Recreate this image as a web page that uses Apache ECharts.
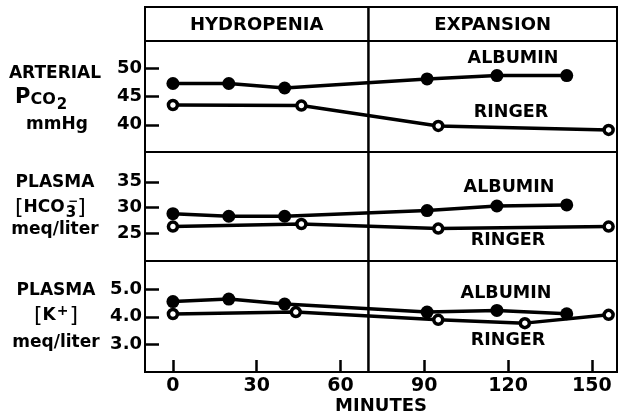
<!DOCTYPE html>
<html>
<head>
<meta charset="utf-8">
<script src="https://cdn.jsdelivr.net/npm/echarts@6/dist/echarts.min.js"></script>
<style>
  html, body { margin: 0; padding: 0; background: #fff; }
  #chart { width: 621px; height: 417px; }
</style>
</head>
<body>
<div id="chart"></div>
<script>
// minutes at which each group was sampled
const minutesAlbumin = [0, 20, 40, 91, 116, 141];
const minutesRinger = [0, 46, 95, 156];
const minutesRingerK = [0, 44, 95, 126, 156];

// arterial PCO2, mmHg
const pco2Albumin = [47.3, 47.3, 46.5, 48.1, 48.7, 48.7];
const pco2Ringer = [43.5, 43.4, 39.8, 39.1];

// plasma HCO3-, meq/liter
const hco3Albumin = [28.8, 28.3, 28.3, 29.4, 30.3, 30.5];
const hco3Ringer = [26.3, 26.8, 25.9, 26.3];

// plasma K+, meq/liter
const kAlbumin = [4.55, 4.64, 4.46, 4.17, 4.23, 4.11];
const kRinger = [4.1, 4.17, 3.89, 3.77, 4.07];

// axis ticks
const timeTicks = [0, 30, 60, 90, 120, 150];
const pco2Ticks = [40, 45, 50];
const hco3Ticks = [25, 30, 35];
const kTicks = [3.0, 4.0, 5.0];

const phaseNames = ['HYDROPENIA', 'EXPANSION'];
const phaseSplit = 70;

const FONT = 'DejaVu Sans';

function pairs(xs, ys) {
    return xs.map(function (x, i) { return [x, ys[i]]; });
}

//坐标轴
function xAxisFor(gridIndex, showLabels) {
    return {
        type: 'value',
        gridIndex: gridIndex,
        min: -10,
        max: 159,
        splitLine: { show: false },
        axisLine: { show: showLabels, onZero: false, lineStyle: { color: '#000', width: 2 } },
        axisTick: {
            show: showLabels, inside: true, length: 12,
            customValues: timeTicks,
            lineStyle: { color: '#000', width: 2.5 }
        },
        axisLabel: {
            show: showLabels, customValues: timeTicks, margin: 5,
            color: '#000', fontFamily: FONT, fontWeight: 'bold', fontSize: 19
        },
        name: showLabels ? 'MINUTES' : '',
        nameLocation: 'middle',
        nameGap: 25,
        nameTextStyle: { color: '#000', fontFamily: FONT, fontWeight: 'bold', fontSize: 18 }
    };
}

function yAxisFor(gridIndex, min, max, ticks, digits) {
    return {
        type: 'value',
        gridIndex: gridIndex,
        min: min,
        max: max,
        splitLine: { show: false },
        axisLine: { show: true, onZero: false, lineStyle: { color: '#000', width: 2 } },
        axisTick: {
            show: true, inside: true, length: 14,
            customValues: ticks,
            lineStyle: { color: '#000', width: 2.5 }
        },
        axisLabel: {
            customValues: ticks, margin: 3,
            color: '#000', fontFamily: FONT, fontWeight: 'bold', fontSize: 18,
            formatter: function (v) { return v.toFixed(digits); }
        }
    };
}

function albuminSeries(idx, xs, ys) {
    return {
        type: 'line', xAxisIndex: idx, yAxisIndex: idx,
        data: pairs(xs, ys),
        symbol: 'circle', symbolSize: 13,
        lineStyle: { color: '#000', width: 3.5 },
        itemStyle: { color: '#000' },
        z: 3
    };
}

function ringerSeries(idx, xs, ys) {
    return {
        type: 'line', xAxisIndex: idx, yAxisIndex: idx,
        data: pairs(xs, ys),
        symbol: 'circle', symbolSize: 9,
        showAllSymbol: true,
        lineStyle: { color: '#000', width: 3.5 },
        itemStyle: { color: '#fff', borderColor: '#000', borderWidth: 3.5 },
        z: 4
    };
}

function label(x, y, text, size, align) {
    return {
        type: 'text', x: x, y: y, z: 10,
        style: {
            text: text, fill: '#000', font: 'bold ' + size + 'px "' + FONT + '"',
            align: align || 'center', verticalAlign: 'middle'
        }
    };
}

var chart = echarts.init(document.getElementById('chart'));

var gridBox = { show: true, borderColor: '#000', borderWidth: 2, left: 145, right: 4 };

chart.setOption({
    animation: false,
    backgroundColor: '#fff',
    grid: [
        Object.assign({ top: 41, height: 111 }, gridBox),
        Object.assign({ top: 152, height: 109 }, gridBox),
        Object.assign({ top: 261, height: 111 }, gridBox)
    ],
    xAxis: [xAxisFor(0, false), xAxisFor(1, false), xAxisFor(2, true)],
    yAxis: [
        yAxisFor(0, 35.2, 54.8, pco2Ticks, 0),
        yAxisFor(1, 19.6, 40.8, hco3Ticks, 0),
        yAxisFor(2, 2.0, 6.02, kTicks, 1)
    ],
    series: [
        albuminSeries(0, minutesAlbumin, pco2Albumin),
        ringerSeries(0, minutesRinger, pco2Ringer),
        albuminSeries(1, minutesAlbumin, hco3Albumin),
        ringerSeries(1, minutesRinger, hco3Ringer),
        albuminSeries(2, minutesAlbumin, kAlbumin),
        ringerSeries(2, minutesRingerK, kRinger)
    ]
});

// 表头和分隔线
var splitX = chart.convertToPixel({ xAxisIndex: 0 }, phaseSplit);
var leftX = 145, rightX = 617, topY = 7, bottomY = 372;

var graphics = [
    { type: 'rect', z: 10, shape: { x: leftX, y: topY, width: rightX - leftX, height: 34 },
      style: { fill: 'none', stroke: '#000', lineWidth: 2 } },
    { type: 'line', z: 10, shape: { x1: splitX, y1: topY, x2: splitX, y2: bottomY },
      style: { stroke: '#000', lineWidth: 2.5 } },
    label((leftX + splitX) / 2, 25, phaseNames[0], 18),
    label((splitX + rightX) / 2, 25, phaseNames[1], 18),

    // series names
    label(513, 58, 'ALBUMIN', 17.5),
    label(511, 112, 'RINGER', 17.5),
    label(509, 187, 'ALBUMIN', 17.5),
    label(508, 240, 'RINGER', 17.5),
    label(506, 293, 'ALBUMIN', 17.5),
    label(508, 340, 'RINGER', 17.5),

    // left labels
    label(55, 74, 'ARTERIAL', 17),
    {
        type: 'text', x: 15, y: 98, z: 10,
        style: {
            text: '{p|P}{c|CO}{s|2}', align: 'left', verticalAlign: 'middle',
            rich: {
                p: { fontFamily: FONT, fontWeight: 'bold', fontSize: 21, fill: '#000' },
                c: { fontFamily: FONT, fontWeight: 'bold', fontSize: 16, fill: '#000', padding: [4, 0, 0, 0] },
                s: { fontFamily: FONT, fontWeight: 'bold', fontSize: 15, fill: '#000', padding: [14, 0, 0, 1] }
            }
        }
    },
    label(57, 125, 'mmHg', 17),

    label(55, 183, 'PLASMA', 17),
    {
        type: 'text', x: 15, y: 208, z: 10,
        style: {
            text: '{b|[}{h|HCO}{s|3}{b|]}', align: 'left', verticalAlign: 'middle',
            rich: {
                b: { fontFamily: FONT, fontSize: 22, fill: '#000' },
                h: { fontFamily: FONT, fontWeight: 'bold', fontSize: 17, fill: '#000' },
                s: { fontFamily: FONT, fontWeight: 'bold', fontSize: 15, fill: '#000', padding: [10, 1, 0, 1] }
            }
        }
    },
    label(73, 202, '\u2212', 12),
    label(55, 230, 'meq/liter', 17),

    label(56, 291, 'PLASMA', 17),
    {
        type: 'text', x: 34, y: 316, z: 10,
        style: {
            text: '{b|[}{h|K}{s|+}{b|]}', align: 'left', verticalAlign: 'middle',
            rich: {
                b: { fontFamily: FONT, fontSize: 22, fill: '#000' },
                h: { fontFamily: FONT, fontWeight: 'bold', fontSize: 17, fill: '#000' },
                s: { fontFamily: FONT, fontWeight: 'bold', fontSize: 14, fill: '#000', padding: [0, 1, 10, 1] }
            }
        }
    },
    label(56, 343, 'meq/liter', 17)
];

chart.setOption({ graphic: graphics });
</script>
</body>
</html>
